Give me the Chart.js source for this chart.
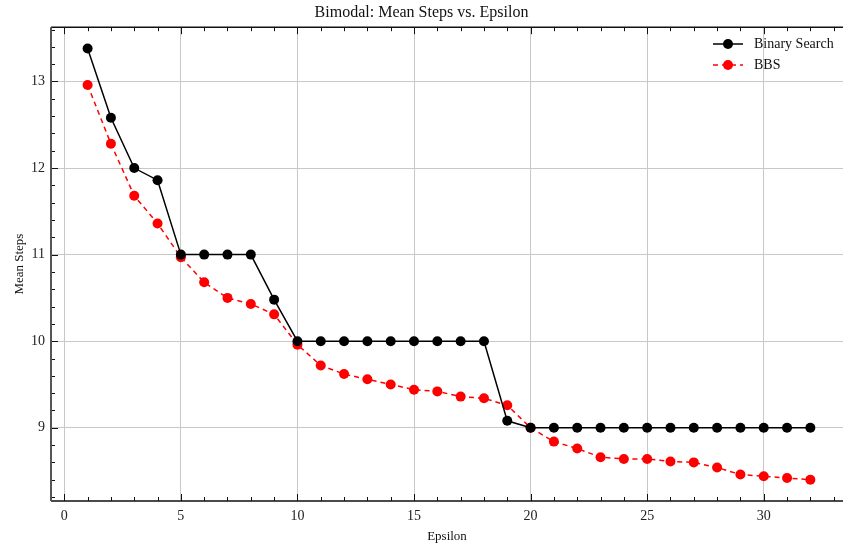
<!DOCTYPE html>
<html>
<head>
<meta charset="utf-8">
<script src="https://cdn.jsdelivr.net/npm/chart.js@4.4.1/dist/chart.umd.min.js"></script>
<style>
  html, body { margin: 0; padding: 0; background: #fff; }
  #wrap { width: 843px; height: 544px; }
</style>
</head>
<body>
<div id="wrap"><canvas id="myChart" width="843" height="544"></canvas></div>
<script>
// datos
const epsilon = [1, 2, 3, 4, 5, 6, 7, 8, 9, 10, 11, 12, 13, 14, 15, 16,
                 17, 18, 19, 20, 21, 22, 23, 24, 25, 26, 27, 28, 29, 30, 31, 32];
const binarySearch = [13.38, 12.58, 12.0, 11.86, 11.0, 11.0, 11.0, 11.0, 10.48, 10.0, 10.0, 10.0, 10.0, 10.0, 10.0, 10.0,
                      10.0, 10.0, 9.08, 9.0, 9.0, 9.0, 9.0, 9.0, 9.0, 9.0, 9.0, 9.0, 9.0, 9.0, 9.0, 9.0];
const bbs = [12.96, 12.28, 11.68, 11.36, 10.97, 10.68, 10.5, 10.43, 10.31, 9.96, 9.72, 9.62, 9.56, 9.5, 9.44, 9.42,
             9.36, 9.34, 9.26, 9.0, 8.84, 8.76, 8.66, 8.64, 8.64, 8.61, 8.6, 8.54, 8.46, 8.44, 8.42, 8.4];
const xTicks = [0, 5, 10, 15, 20, 25, 30];
const yTicks = [9, 10, 11, 12, 13];

const serif = "'Liberation Serif', 'DejaVu Serif', serif";

// ticks hacia adentro + marco superior + leyenda dentro del area
const frameTicks = {
  id: 'frameTicks',
  afterDraw(chart) {
    const c = chart.ctx, a = chart.chartArea;
    const xs = chart.scales.x, ys = chart.scales.y;
    c.save();
    c.strokeStyle = '#111';
    c.lineWidth = 1;
    // minor/major en x (abajo y arriba)
    for (let v = Math.ceil(xs.min); v <= xs.max; v++) {
      const px = Math.round(xs.getPixelForValue(v)) + 0.5;
      const len = (v % 5 === 0) ? 7 : 4;
      c.beginPath(); c.moveTo(px, a.bottom); c.lineTo(px, a.bottom - len); c.stroke();
      c.beginPath(); c.moveTo(px, a.top); c.lineTo(px, a.top + len); c.stroke();
    }
    // minor/major en y
    for (let k = Math.ceil(ys.min * 5); k <= ys.max * 5; k++) {
      const v = k / 5;
      const py = Math.round(ys.getPixelForValue(v)) + 0.5;
      const len = (k % 5 === 0) ? 7 : 4;
      c.beginPath(); c.moveTo(a.left, py); c.lineTo(a.left + len, py); c.stroke();
    }
    // marco
    c.lineWidth = 1.5;
    c.strokeStyle = '#111';
    c.beginPath();
    c.moveTo(a.left, a.top); c.lineTo(a.right, a.top);
    c.moveTo(a.left, a.bottom); c.lineTo(a.right, a.bottom);
    c.stroke();
    c.strokeStyle = '#555';
    c.lineWidth = 2;
    c.beginPath(); c.moveTo(a.left, a.top); c.lineTo(a.left, a.bottom); c.stroke();

    // leyenda
    const items = chart.data.datasets;
    items.forEach((ds, i) => {
      const y = 44 + i * 21;
      c.strokeStyle = ds.borderColor;
      c.lineWidth = ds.borderWidth;
      c.setLineDash(ds.borderDash || []);
      c.beginPath(); c.moveTo(713, y); c.lineTo(743, y); c.stroke();
      c.setLineDash([]);
      c.fillStyle = ds.pointBackgroundColor;
      c.beginPath(); c.arc(728, y, ds.pointRadius, 0, Math.PI * 2); c.fill();
      c.fillStyle = '#111';
      c.font = '14px ' + serif;
      c.textBaseline = 'middle';
      c.textAlign = 'left';
      c.fillText(ds.label, 754, y);
    });
    c.restore();
  }
};

function chart1() {
  const ctx = document.getElementById('myChart');
  new Chart(ctx, {
    type: 'line',
    data: {
      datasets: [{
        label: 'Binary Search',
        data: epsilon.map((e, i) => ({ x: e, y: binarySearch[i] })),
        borderColor: '#000000',
        backgroundColor: '#000000',
        pointBackgroundColor: '#000000',
        pointBorderColor: '#000000',
        borderWidth: 1.5,
        pointRadius: 5,
        pointBorderWidth: 0,
        tension: 0
      }, {
        label: 'BBS',
        data: epsilon.map((e, i) => ({ x: e, y: bbs[i] })),
        borderColor: '#ff0000',
        backgroundColor: '#ff0000',
        pointBackgroundColor: '#ff0000',
        pointBorderColor: '#ff0000',
        borderWidth: 1.5,
        borderDash: [5, 4],
        pointRadius: 5,
        pointBorderWidth: 0,
        tension: 0
      }]
    },
    options: {
      responsive: false,
      animation: false,
      layout: { padding: 0, autoPadding: false },
      scales: {
        x: {
          type: 'linear',
          min: -0.57,
          max: 33.4,
          afterBuildTicks: s => { s.ticks = xTicks.map(v => ({ value: v })); },
          afterFit: s => { s.height = 43; },
          grid: { color: '#c8c8c8', lineWidth: 1, drawTicks: false },
          border: { display: false },
          ticks: { color: '#222', font: { family: serif, size: 14 }, padding: 7 },
          title: { display: true, text: 'Epsilon', color: '#111', font: { family: serif, size: 13 }, padding: { top: 1, bottom: 0 } }
        },
        y: {
          min: 8.154,
          max: 13.627,
          afterBuildTicks: s => { s.ticks = yTicks.map(v => ({ value: v })); },
          afterFit: s => { s.width = 51; },
          grid: { color: '#c8c8c8', lineWidth: 1, drawTicks: false },
          border: { display: false },
          ticks: { color: '#222', font: { family: serif, size: 14 }, padding: 6 },
          title: { display: true, text: 'Mean Steps', color: '#111', font: { family: serif, size: 13 }, padding: { top: 12, bottom: 4 } }
        }
      },
      plugins: {
        legend: { display: false },
        tooltip: { enabled: false },
        title: {
          display: true,
          text: 'Bimodal: Mean Steps vs. Epsilon',
          color: '#111',
          font: { family: serif, size: 16, weight: 'normal' },
          padding: { top: 3, bottom: 5 }
        }
      }
    },
    plugins: [frameTicks]
  });
}

chart1();
</script>
</body>
</html>
